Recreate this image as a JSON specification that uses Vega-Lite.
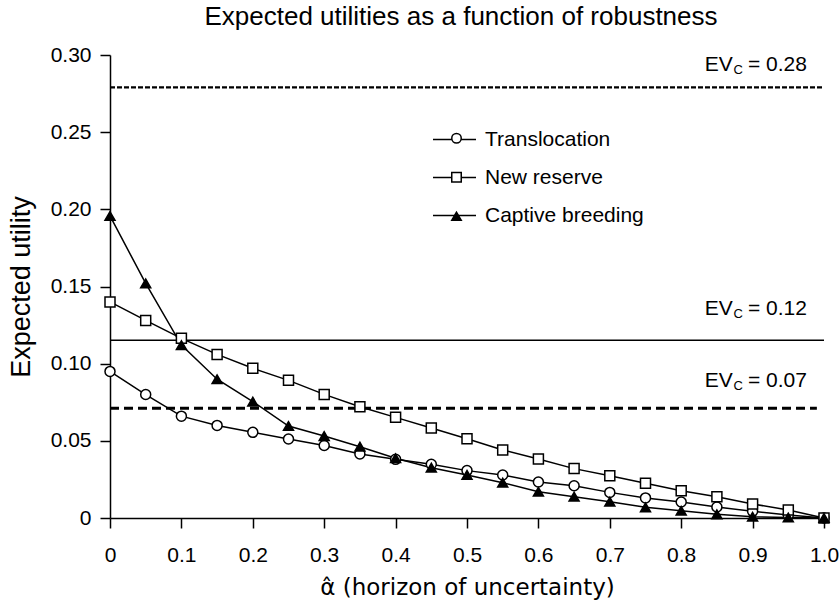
{
  "$schema": "https://vega.github.io/schema/vega-lite/v6.json",
  "width": 714,
  "height": 463,
  "autosize": "none",
  "padding": {"left": 110, "top": 55, "right": 15, "bottom": 87},
  "background": "white",
  "config": {
    "font": "Liberation Sans",
    "view": {"stroke": null},
    "axis": {"domainColor": "black", "domainWidth": 1.5, "tickColor": "black", "tickWidth": 1.5, "tickSize": 10, "labelColor": "black", "labelFontSize": 21, "titleColor": "black", "titleFontSize": 25, "titleFontWeight": "normal", "grid": false, "labelFont": "Liberation Sans", "titleFont": "Liberation Sans"},
    "legend": {"labelFont": "Liberation Sans", "labelFontSize": 21, "labelColor": "black"},
    "title": {"fontSize": 26, "fontWeight": "normal", "color": "black", "font": "Liberation Sans"}
  },
  "title": {"text": "Expected utilities as a function of robustness", "anchor": "middle", "offset": 14, "dx": -6},
  "datasets": {
    "curves": [
      {"alpha": 0, "u": 0.095, "series": "Translocation"},
      {"alpha": 0.05, "u": 0.080, "series": "Translocation"},
      {"alpha": 0.1, "u": 0.066, "series": "Translocation"},
      {"alpha": 0.15, "u": 0.060, "series": "Translocation"},
      {"alpha": 0.2, "u": 0.0555, "series": "Translocation"},
      {"alpha": 0.25, "u": 0.0512, "series": "Translocation"},
      {"alpha": 0.3, "u": 0.047, "series": "Translocation"},
      {"alpha": 0.35, "u": 0.0415, "series": "Translocation"},
      {"alpha": 0.4, "u": 0.038, "series": "Translocation"},
      {"alpha": 0.45, "u": 0.0348, "series": "Translocation"},
      {"alpha": 0.5, "u": 0.0307, "series": "Translocation"},
      {"alpha": 0.55, "u": 0.0279, "series": "Translocation"},
      {"alpha": 0.6, "u": 0.0233, "series": "Translocation"},
      {"alpha": 0.65, "u": 0.0209, "series": "Translocation"},
      {"alpha": 0.7, "u": 0.0166, "series": "Translocation"},
      {"alpha": 0.75, "u": 0.013, "series": "Translocation"},
      {"alpha": 0.8, "u": 0.0104, "series": "Translocation"},
      {"alpha": 0.85, "u": 0.0071, "series": "Translocation"},
      {"alpha": 0.9, "u": 0.0043, "series": "Translocation"},
      {"alpha": 0.95, "u": 0.002, "series": "Translocation"},
      {"alpha": 1.0, "u": 0, "series": "Translocation"},
      {"alpha": 0, "u": 0.140, "series": "New reserve"},
      {"alpha": 0.05, "u": 0.128, "series": "New reserve"},
      {"alpha": 0.1, "u": 0.1164, "series": "New reserve"},
      {"alpha": 0.15, "u": 0.106, "series": "New reserve"},
      {"alpha": 0.2, "u": 0.097, "series": "New reserve"},
      {"alpha": 0.25, "u": 0.0892, "series": "New reserve"},
      {"alpha": 0.3, "u": 0.0801, "series": "New reserve"},
      {"alpha": 0.35, "u": 0.0721, "series": "New reserve"},
      {"alpha": 0.4, "u": 0.0652, "series": "New reserve"},
      {"alpha": 0.45, "u": 0.0583, "series": "New reserve"},
      {"alpha": 0.5, "u": 0.0514, "series": "New reserve"},
      {"alpha": 0.55, "u": 0.0441, "series": "New reserve"},
      {"alpha": 0.6, "u": 0.0382, "series": "New reserve"},
      {"alpha": 0.65, "u": 0.032, "series": "New reserve"},
      {"alpha": 0.7, "u": 0.0274, "series": "New reserve"},
      {"alpha": 0.75, "u": 0.0225, "series": "New reserve"},
      {"alpha": 0.8, "u": 0.0177, "series": "New reserve"},
      {"alpha": 0.85, "u": 0.0138, "series": "New reserve"},
      {"alpha": 0.9, "u": 0.0091, "series": "New reserve"},
      {"alpha": 0.95, "u": 0.0052, "series": "New reserve"},
      {"alpha": 1.0, "u": 0, "series": "New reserve"},
      {"alpha": 0, "u": 0.1957, "series": "Captive breeding"},
      {"alpha": 0.05, "u": 0.152, "series": "Captive breeding"},
      {"alpha": 0.1, "u": 0.112, "series": "Captive breeding"},
      {"alpha": 0.15, "u": 0.0899, "series": "Captive breeding"},
      {"alpha": 0.2, "u": 0.0754, "series": "Captive breeding"},
      {"alpha": 0.25, "u": 0.0596, "series": "Captive breeding"},
      {"alpha": 0.3, "u": 0.0531, "series": "Captive breeding"},
      {"alpha": 0.35, "u": 0.0462, "series": "Captive breeding"},
      {"alpha": 0.4, "u": 0.0387, "series": "Captive breeding"},
      {"alpha": 0.45, "u": 0.0326, "series": "Captive breeding"},
      {"alpha": 0.5, "u": 0.0279, "series": "Captive breeding"},
      {"alpha": 0.55, "u": 0.0229, "series": "Captive breeding"},
      {"alpha": 0.6, "u": 0.017, "series": "Captive breeding"},
      {"alpha": 0.65, "u": 0.0138, "series": "Captive breeding"},
      {"alpha": 0.7, "u": 0.0106, "series": "Captive breeding"},
      {"alpha": 0.75, "u": 0.0069, "series": "Captive breeding"},
      {"alpha": 0.8, "u": 0.0047, "series": "Captive breeding"},
      {"alpha": 0.85, "u": 0.0024, "series": "Captive breeding"},
      {"alpha": 0.9, "u": 0.0008, "series": "Captive breeding"},
      {"alpha": 0.95, "u": 0.0003, "series": "Captive breeding"},
      {"alpha": 1.0, "u": 0, "series": "Captive breeding"}
    ],
    "ev": [
      {"ev": "0.28", "level": 0.279, "txt": "= 0.28"},
      {"ev": "0.12", "level": 0.1152, "txt": "= 0.12"},
      {"ev": "0.07", "level": 0.0711, "txt": "= 0.07"}
    ]
  },
  "layer": [
    {
      "data": {"name": "ev"},
      "transform": [{"filter": "datum.ev == '0.28'"}],
      "mark": {"type": "rule", "color": "black", "strokeWidth": 2.4, "strokeDash": [5, 2]},
      "encoding": {"x": {"datum": 0}, "x2": {"datum": 1}, "y": {"field": "level", "type": "quantitative"}}
    },
    {
      "data": {"name": "ev"},
      "transform": [{"filter": "datum.ev == '0.12'"}],
      "mark": {"type": "rule", "color": "black", "strokeWidth": 1.6},
      "encoding": {"x": {"datum": 0}, "x2": {"datum": 1}, "y": {"field": "level", "type": "quantitative"}}
    },
    {
      "data": {"name": "ev"},
      "transform": [{"filter": "datum.ev == '0.07'"}],
      "mark": {"type": "rule", "color": "black", "strokeWidth": 3, "strokeDash": [9, 5]},
      "encoding": {"x": {"datum": 0}, "x2": {"datum": 0.99}, "y": {"field": "level", "type": "quantitative"}}
    },
    {
      "data": {"name": "curves"},
      "mark": {"type": "line", "strokeWidth": 1.5},
      "encoding": {
        "x": {"field": "alpha", "type": "quantitative", "scale": {"domain": [0, 1], "nice": false, "zero": false},
          "axis": {"values": [0, 0.1, 0.2, 0.3, 0.4, 0.5, 0.6, 0.7, 0.8, 0.9, 1.0], "labelExpr": "datum.value == 0 ? '0' : format(datum.value, '.1f')", "labelPadding": 16, "title": "α̂ (horizon of uncertainty)", "titleFont": "DejaVu Sans", "titleFontSize": 23, "titlePadding": 11, "labelFlush": false}},
        "y": {"field": "u", "type": "quantitative", "scale": {"domain": [0, 0.3], "nice": false},
          "axis": {"values": [0, 0.05, 0.1, 0.15, 0.2, 0.25, 0.3], "labelExpr": "datum.value == 0 ? '0' : format(datum.value, '.2f')", "labelPadding": 9, "title": "Expected utility", "titleFontSize": 27, "titlePadding": 15, "labelFlush": false}},
        "stroke": {"field": "series", "type": "nominal", "sort": ["Translocation", "New reserve", "Captive breeding"], "scale": {"range": ["black", "black", "black"]},
          "legend": {"title": null, "orient": "none", "legendX": 322, "legendY": 62, "symbolType": "stroke", "symbolSize": 1849, "symbolStrokeWidth": 1.5, "labelOffset": 8, "rowPadding": 5}}
      }
    },
    {
      "data": {"name": "curves"},
      "mark": {"type": "point", "filled": false, "color": "black", "strokeWidth": 1.5, "opacity": 1},
      "encoding": {
        "x": {"field": "alpha", "type": "quantitative"},
        "y": {"field": "u", "type": "quantitative"},
        "stroke": {"value": "black"},
        "shape": {"field": "series", "type": "nominal", "scale": {"domain": ["Translocation", "New reserve", "Captive breeding"], "range": ["circle", "square", "triangle-up"]},
          "legend": {"title": null, "orient": "none", "legendX": 336, "legendY": 64, "symbolSize": 90, "symbolStrokeWidth": 1.5, "symbolOpacity": 1, "labelExpr": "''", "clipHeight": 38.5, "rowPadding": 0}},
        "fill": {"field": "series", "type": "nominal", "scale": {"domain": ["Translocation", "New reserve", "Captive breeding"], "range": ["white", "white", "black"]},
          "legend": {"title": null, "orient": "none", "legendX": 336, "legendY": 64, "symbolSize": 90, "symbolStrokeWidth": 1.5, "symbolOpacity": 1, "labelExpr": "''", "clipHeight": 38.5, "rowPadding": 0}},
        "size": {"value": 100}
      }
    },
    {
      "data": {"name": "ev"},
      "transform": [{"filter": "datum.ev == '0.28'"}],
      "layer": [
        {"mark": {"type": "text", "align": "right", "baseline": "alphabetic", "fontSize": 21, "color": "black", "dy": -16}, "encoding": {"text": {"field": "txt"}}},
        {"mark": {"type": "text", "align": "right", "baseline": "alphabetic", "fontSize": 13, "color": "black", "dy": -13, "dx": -64}, "encoding": {"text": {"value": "C"}}},
        {"mark": {"type": "text", "align": "right", "baseline": "alphabetic", "fontSize": 21, "color": "black", "dy": -16, "dx": -74}, "encoding": {"text": {"value": "EV"}}}
      ],
      "encoding": {"x": {"datum": 0.976}, "y": {"field": "level", "type": "quantitative"}}
    },
    {
      "data": {"name": "ev"},
      "transform": [{"filter": "datum.ev == '0.12'"}],
      "layer": [
        {"mark": {"type": "text", "align": "right", "baseline": "alphabetic", "fontSize": 21, "color": "black", "dy": -25}, "encoding": {"text": {"field": "txt"}}},
        {"mark": {"type": "text", "align": "right", "baseline": "alphabetic", "fontSize": 13, "color": "black", "dy": -22, "dx": -64}, "encoding": {"text": {"value": "C"}}},
        {"mark": {"type": "text", "align": "right", "baseline": "alphabetic", "fontSize": 21, "color": "black", "dy": -25, "dx": -74}, "encoding": {"text": {"value": "EV"}}}
      ],
      "encoding": {"x": {"datum": 0.976}, "y": {"field": "level", "type": "quantitative"}}
    },
    {
      "data": {"name": "ev"},
      "transform": [{"filter": "datum.ev == '0.07'"}],
      "layer": [
        {"mark": {"type": "text", "align": "right", "baseline": "alphabetic", "fontSize": 21, "color": "black", "dy": -21}, "encoding": {"text": {"field": "txt"}}},
        {"mark": {"type": "text", "align": "right", "baseline": "alphabetic", "fontSize": 13, "color": "black", "dy": -18, "dx": -64}, "encoding": {"text": {"value": "C"}}},
        {"mark": {"type": "text", "align": "right", "baseline": "alphabetic", "fontSize": 21, "color": "black", "dy": -21, "dx": -74}, "encoding": {"text": {"value": "EV"}}}
      ],
      "encoding": {"x": {"datum": 0.976}, "y": {"field": "level", "type": "quantitative"}}
    }
  ]
}
